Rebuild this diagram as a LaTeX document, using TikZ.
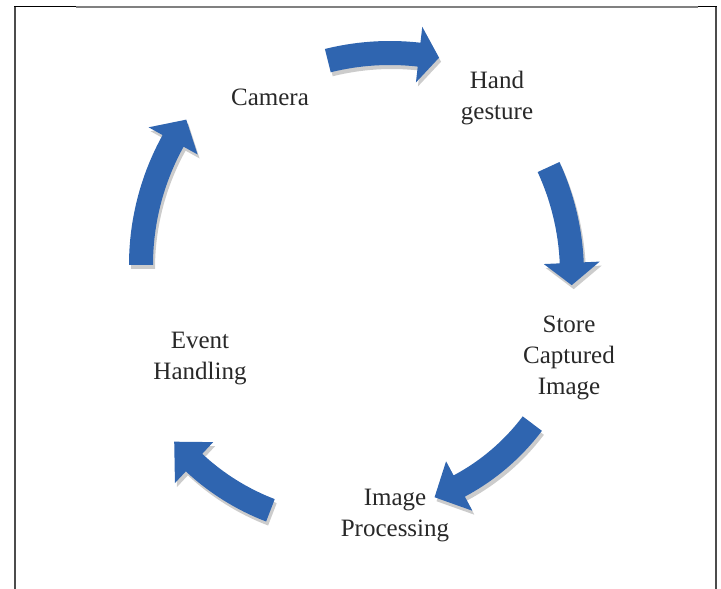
\documentclass[tikz,border=0pt]{standalone}
\usepackage{fontspec}
\setmainfont{Liberation Serif}
\usetikzlibrary{shadows}
\definecolor{cycleblue}{RGB}{47,101,176}
\definecolor{labelgray}{RGB}{40,40,40}
\tikzset{cycle arrow/.style={fill=cycleblue,draw=none,drop shadow={shadow xshift=2pt,shadow yshift=-4pt,opacity=0.2,fill=black}},
  cycle label/.style={align=center,text=labelgray,font=\fontsize{25}{31}\selectfont,inner sep=0pt}}

\begin{document}
\begin{tikzpicture}[x=1pt,y=1pt]
	\useasboundingbox (0,0) rectangle (721,589);
	% frame
	\draw[line width=2pt,black!70] (15,0) -- (15,582);
	\draw[line width=2pt,black!70] (716,0) -- (716,582);
	\draw[line width=1pt] (14,582) -- (76,582);
	\draw[line width=1.5pt,black!50] (76,582) -- (698,582);
	\draw[line width=1pt] (698,582) -- (717,582);

	% arrows: centre x/centre y/tail/head base/tip/radius
	\foreach \cx/\cy/\a/\b/\t/\r in {390/279/104/83.5/79/257, 316/315/24.7/2.5/-2.5/256,
		355/299/-37/-62/-69/222, 355/299/-111/-133/-140/236, 397/324/180/151/145.4/256}{
		\begin{scope}[shift={(\cx,\cy)}]
		\fill[cycle arrow] (\a:{\r+12}) arc[start angle=\a,end angle=\b,radius=\r+12]
			-- (\b:{\r+28}) -- (\t:\r) -- (\b:{\r-28}) -- (\b:{\r-12})
			arc[start angle=\b,end angle=\a,radius=\r-12] -- cycle;
		\end{scope}
	}

	\node[cycle label] (camera) at (270,492) {Camera};
	\node[cycle label] (hand) at (497,491) {Hand\\gesture};
	\node[cycle label] (store) at (569,231) {Store\\Captured\\Image};
	\node[cycle label] (improc) at (395,73) {Image\\Processing};
	\node[cycle label] (event) at (200,230) {Event\\Handling};
\end{tikzpicture}
\end{document}
